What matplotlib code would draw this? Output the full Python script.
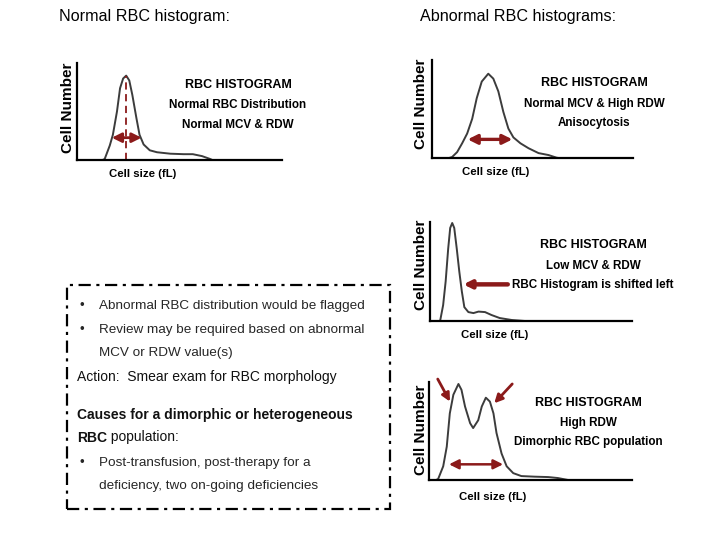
import matplotlib
matplotlib.use("Agg")
import matplotlib.pyplot as plt
from matplotlib.patches import Rectangle

W, H = 720, 540

# --- panel data (x: cell size, fL-like scale 0-200; y: relative cell number 0-100) ---
normal_size = [25, 27, 32, 35, 39, 42, 45, 48, 51, 54, 58, 61, 65, 71, 78, 91, 104, 113, 122, 130, 132]
normal_count = [0, 1, 15, 26, 50, 74, 84, 87, 82, 67, 43, 26, 16, 10, 8, 6.5, 6, 6, 4, 1, 0]
normal_mcv = 48
normal_rdw = [34, 63]
normal_rdw_level = 23

aniso_size = [17, 20, 25, 30, 35, 40, 44.5, 49.5, 56, 61, 66, 71, 76, 81, 88, 96, 106, 116, 124, 126]
aniso_count = [0, 1, 6, 15, 25, 40, 61, 78, 86, 81, 68, 47, 30, 21, 15, 10, 5, 3, 0.3, 0]
aniso_rdw = [35.5, 80]
aniso_rdw_level = 19

micro_size = [8, 10, 13, 15.5, 18, 20, 22, 24, 26.5, 29, 31.5, 34, 38, 43, 48, 54.5, 61, 69, 81, 94]
micro_count = [0, 0, 16, 40, 73, 94, 99, 94, 73, 50, 30, 14, 9, 8, 9.5, 9, 6, 3, 1, 0]
micro_arrow_tail = [77, 37]
micro_arrow_tip = [33, 37]

dimorph_size = [7, 9, 14, 17.5, 20.5, 24, 29, 32, 35.5, 40.5, 43.5, 48.5, 52, 56, 60, 63.5,
                66.5, 71.5, 76.5, 83, 91, 104, 117.5, 127, 137]
dimorph_count = [0, 1, 14, 34, 68, 87, 98, 92, 75, 58, 53, 61, 75, 84, 80, 68,
                 48, 27, 14, 7, 4, 3.4, 3, 2, 0]
dimorph_rdw = [19.7, 73]
dimorph_rdw_level = 16
dimorph_peak_tails = [[8.6, 103], [82, 98]]
dimorph_peak_tips = [[20.7, 80], [64.3, 78.3]]

box_bullets = [
    ("Abnormal RBC distribution would be flagged", True),
    ("Review may be required based on abnormal", True),
    ("MCV or RDW value(s)", False),
]
box_causes = [
    ("Post-transfusion, post-therapy for a", True),
    ("deficiency, two on-going deficiencies", False),
]

RED = "#8b1a1a"
CURVE = "#3c3c3c"
NF = "Liberation Sans"

fig = plt.figure(figsize=(W / 100, H / 100), dpi=100)
fig.patch.set_facecolor("white")


def px_axes(left, top, right, bottom):
    ax = fig.add_axes([left / W, 1 - bottom / H, (right - left) / W, (bottom - top) / H])
    ax.set_xlim(0, 200)
    ax.set_ylim(0, 100)
    ax.patch.set_visible(False)
    for s in ["top", "right"]:
        ax.spines[s].set_visible(False)
    for s in ["left", "bottom"]:
        ax.spines[s].set_linewidth(1.6)
        ax.spines[s].set_color("black")
    ax.set_xticks([])
    ax.set_yticks([])
    return ax


def ftext(x, y, s, size, ha="center", weight="normal", **kw):
    return fig.text(x / W, 1 - y / H, s, ha=ha, va="center", fontsize=size,
                    fontweight=weight, family=NF, **kw)


def panel_labels(cn_x, cn_y, cs_x, cs_y, lines, lx, ly):
    ftext(cn_x, cn_y, "Cell Number", 11, weight="bold", rotation=90)
    ftext(cs_x, cs_y, "Cell size (fL)", 8.2, weight="bold")
    for i, line in enumerate(lines):
        ftext(lx, ly[i], line, 9 if i == 0 else 8.4, weight="bold")


def double_arrow(ax, xs, y, lw=2.0, ms=13):
    ax.annotate("", xy=(xs[1], y), xytext=(xs[0], y),
                arrowprops=dict(arrowstyle="<|-|>", color=RED, lw=lw, mutation_scale=ms,
                                shrinkA=0, shrinkB=0))


# titles
ftext(59, 16, "Normal RBC histogram:", 11.6, ha="left")
ftext(420, 17, "Abnormal RBC histograms:", 11.6, ha="left")

# panel 1: normal
ax1 = px_axes(77, 63, 282, 160)
ax1.plot(normal_size, normal_count, color=CURVE, lw=1.4)
ax1.plot([normal_mcv, normal_mcv], [0, max(normal_count)], color=RED, lw=1.3, ls=(0, (4, 2.5)))
double_arrow(ax1, normal_rdw, normal_rdw_level, lw=2.0, ms=14)
panel_labels(68, 108, 143, 174,
             ["RBC HISTOGRAM", "Normal RBC Distribution", "Normal MCV & RDW"], 238, [85, 105, 125])

# panel 2: anisocytosis
ax2 = px_axes(432, 60, 633, 158)
ax2.plot(aniso_size, aniso_count, color=CURVE, lw=1.4)
double_arrow(ax2, aniso_rdw, aniso_rdw_level, lw=2.4, ms=14)
panel_labels(421, 104, 496, 172,
             ["RBC HISTOGRAM", "Normal MCV & High RDW", "Anisocytosis"], 594, [83, 104, 123])

# panel 3: shifted left
ax3 = px_axes(430, 222, 632, 321)
ax3.plot(micro_size, micro_count, color=CURVE, lw=1.4)
ax3.annotate("", xy=micro_arrow_tip, xytext=micro_arrow_tail,
             arrowprops=dict(arrowstyle="-|>", color=RED, lw=3.2, mutation_scale=11,
                             shrinkA=0, shrinkB=0))
panel_labels(421, 265, 495, 335,
             ["RBC HISTOGRAM", "Low MCV & RDW", "RBC Histogram is shifted left"], 593, [245, 266, 285])

# panel 4: dimorphic
ax4 = px_axes(429, 382, 632, 480)
ax4.plot(dimorph_size, dimorph_count, color=CURVE, lw=1.4)
double_arrow(ax4, dimorph_rdw, dimorph_rdw_level, lw=1.8, ms=14)
for tail, tip in zip(dimorph_peak_tails, dimorph_peak_tips):
    ax4.annotate("", xy=tip, xytext=tail, annotation_clip=False,
                 arrowprops=dict(arrowstyle="-|>", color=RED, lw=2.0, mutation_scale=12,
                                 shrinkA=0, shrinkB=0))
panel_labels(421, 430, 493, 497,
             ["RBC HISTOGRAM", "High RDW", "Dimorphic RBC population"], 588, [403, 423, 442])

# dash-dot box with notes
fig.add_artist(Rectangle((67 / W, 1 - 509 / H), (390 - 67) / W, (509 - 285) / H,
                         transform=fig.transFigure, fill=False, ec="black", lw=1.6,
                         ls=(0, (5.5, 2.5, 1.4, 2.5))))

BOX_SIZE = 9.7
TXT = "#262626"
DARK = "#111111"
for (s, bullet), y in zip(box_bullets, [306.5, 330, 353]):
    if bullet:
        ftext(82, y, "\u2022", BOX_SIZE, color=TXT)
    ftext(99, y, s, BOX_SIZE, ha="left", color=TXT)
ftext(77, 377, "Action:  Smear exam for RBC morphology", 10, ha="left", color=DARK)
ftext(77, 415, "Causes for a dimorphic or heterogeneous", 10, ha="left", weight="bold", color=DARK)
rbc = ftext(77, 437.5, "RBC", 10, ha="left", weight="bold", color=DARK)
ax1.annotate(" population:", xy=(1, 0), xycoords=rbc, ha="left", va="bottom",
             annotation_clip=False, fontsize=10, family=NF, color=DARK)
for (s, bullet), y in zip(box_causes, [463, 486.5]):
    if bullet:
        ftext(82, y, "\u2022", BOX_SIZE, color=TXT)
    ftext(99, y, s, BOX_SIZE, ha="left", color=TXT)

fig.savefig("out.png", dpi=100)
